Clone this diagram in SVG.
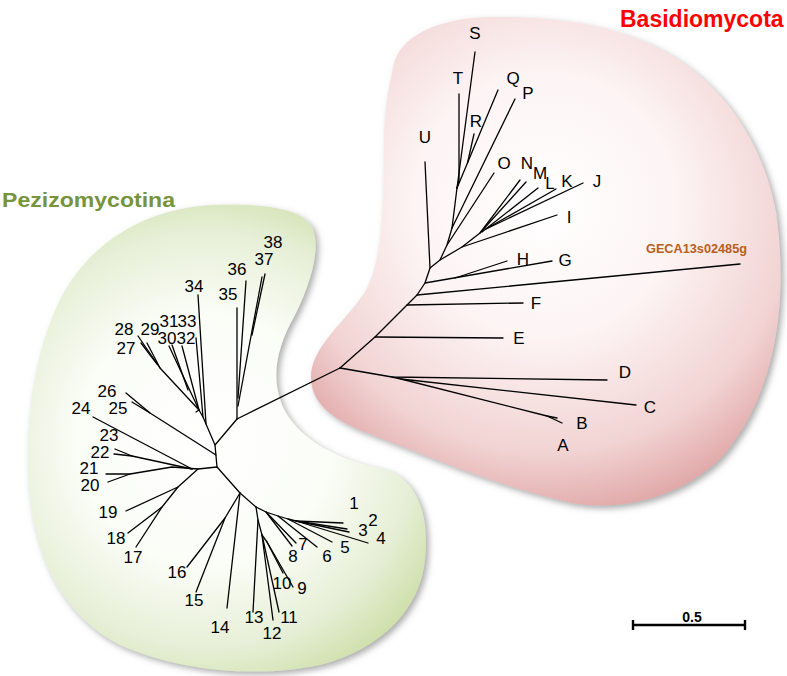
<svg xmlns="http://www.w3.org/2000/svg" width="787" height="676" viewBox="0 0 787 676">
<defs>
<radialGradient id="pinkG" gradientUnits="userSpaceOnUse" cx="545" cy="205" r="330">
<stop offset="0" stop-color="#ffffff"/>
<stop offset="0.4" stop-color="#fdf4f4"/>
<stop offset="0.75" stop-color="#f2d3d3"/>
<stop offset="1" stop-color="#dc9d9d"/>
</radialGradient>
<radialGradient id="greenG" gradientUnits="userSpaceOnUse" cx="205" cy="440" r="280">
<stop offset="0" stop-color="#ffffff"/>
<stop offset="0.45" stop-color="#fbfdf7"/>
<stop offset="0.75" stop-color="#e6efd6"/>
<stop offset="1" stop-color="#c9db9f"/>
</radialGradient>
<filter id="shade" x="-10%" y="-10%" width="125%" height="125%">
<feGaussianBlur in="SourceAlpha" stdDeviation="3"/>
<feOffset dx="3" dy="3" result="b"/>
<feFlood flood-color="#6b6b6b" flood-opacity="0.55"/>
<feComposite in2="b" operator="in"/>
<feMerge><feMergeNode/><feMergeNode in="SourceGraphic"/></feMerge>
</filter>
</defs>
<style>
.lbl{font-family:"Liberation Sans",Arial,sans-serif;font-size:17px;fill:#000;text-anchor:middle}
.br{fill:none;stroke:#000;stroke-width:1.3;stroke-linecap:round;stroke-linejoin:round}
.title{font-family:"Liberation Sans",Arial,sans-serif;font-weight:bold}
</style>
<rect width="787" height="676" fill="#ffffff"/>
<g id="clade-basidiomycota">
<path filter="url(#shade)" fill="url(#pinkG)" d="M393,68 C398,35 440,18 490,17 C560,16 610,26 650,44 C710,72 760,128 776,212 C790,310 772,400 722,457 C682,497 622,512 572,503 C502,488 430,457 370,434 C330,419 311,402 311,377 C311,347 345,322 365,292 C384,257 383,202 384,142 C384,115 388,90 393,68 Z"/>
<text class="title" x="620" y="27" font-size="23" fill="#ff0000">Basidiomycota</text>
</g>
<g id="clade-pezizomycotina">
<path filter="url(#shade)" fill="url(#greenG)" d="M60,300 C90,240 150,207 215,205 C260,204 300,207 312,227 C322,247 310,285 295,315 C278,345 270,375 282,405 C295,435 330,458 380,468 C415,476 430,510 425,560 C420,610 380,650 320,665 C260,678 180,672 120,645 C60,615 30,550 28,470 C26,400 40,340 60,300 Z"/>
<text class="title" x="2" y="207" font-size="21" fill="#77933c" textLength="173" lengthAdjust="spacingAndGlyphs">Pezizomycotina</text>
</g>
<g id="connectors" class="br">
<path d="M237,419 L340,368"/>
<path d="M340,368 L375,337 L407,305 L417,295 L425,283 L430,268 L440,260 L447,245 L452,228 L457,188"/>
<path d="M375,337 L503,338"/>
<path d="M407,305 L523,303"/>
<path d="M417,295 L740,264"/>
<path d="M425,283 L552,261"/>
<path d="M455,278 L507,261"/>
<path d="M430,268 L425,162"/>
<path d="M440,260 L462,247 L557,215"/>
<path d="M462,247 L480,233 L520,180"/>
<path d="M480,233 L526,182"/>
<path d="M482,232 L538,188"/>
<path d="M486,229 L556,189"/>
<path d="M486,229 L583,183"/>
<path d="M447,245 L494,173"/>
<path d="M452,228 L515,99"/>
<path d="M457,188 L459,180 L459,94"/>
<path d="M457,188 L475,52"/>
<path d="M457,188 L498,90"/>
<path d="M467.5,163 L474,134"/>
<path d="M340,368 L392,377 L607,380"/>
<path d="M392,377 L401,379 L636,405"/>
<path d="M401,379 L547,416 L562,423"/>
<path d="M547,416 L557,418"/>
<path d="M237,419 L215,445 L217,467"/>
<path d="M237,419 L237,308"/>
<path d="M238,398 L246,281"/>
<path d="M238,406 L262,277"/>
<path d="M252,335 L265,274"/>
<path d="M215,445 L206,424 L198,295"/>
<path d="M206,424 L203,417 L196,338"/>
<path d="M203,417 L199,410 L182,346"/>
<path d="M199,410 L196,412"/>
<path d="M199,410 L169,346"/>
<path d="M188,390 L172,345"/>
<path d="M199,410 L160,368 L138,336"/>
<path d="M160,368 L147,343"/>
<path d="M157,364 L141,343"/>
<path d="M216,455 L150,413 L126,393"/>
<path d="M150,413 L132,402"/>
<path d="M93,417 L192,469"/>
<path d="M192,469 L132,456 L115,449"/>
<path d="M132,456 L114,454"/>
<path d="M217,467 L198,469 L172,467 L130,474 L106,474"/>
<path d="M130,474 L108,482"/>
<path d="M198,469 L178,487 L126,511"/>
<path d="M178,487 L162,507 L128,533"/>
<path d="M162,507 L136,547"/>
<path d="M217,467 L240,493 L256,507"/>
<path d="M240,493 L227,608"/>
<path d="M240,493 L225,518 L187,567"/>
<path d="M225,518 L196,592"/>
<path d="M256,507 L266,512 L292,546"/>
<path d="M266,512 L296,543"/>
<path d="M266,512 L278,516 L317,547"/>
<path d="M278,516 L288,519 L332,542"/>
<path d="M288,519 L296,521 L343,523"/>
<path d="M296,521 L347,529"/>
<path d="M296,521 L349,532"/>
<path d="M296,521 L368,543"/>
<path d="M256,507 L258,520 L253,612"/>
<path d="M258,520 L262,535 L273,620"/>
<path d="M262,535 L279,612"/>
<path d="M262,535 L267,542 L283,573"/>
<path d="M267,542 L293,587"/>
</g>
<g id="leaf-S"><text class="lbl" x="475" y="39">S</text></g>
<g id="leaf-T"><text class="lbl" x="458" y="84">T</text></g>
<g id="leaf-Q"><text class="lbl" x="513" y="84">Q</text></g>
<g id="leaf-P"><text class="lbl" x="528" y="99">P</text></g>
<g id="leaf-R"><text class="lbl" x="476" y="127">R</text></g>
<g id="leaf-U"><text class="lbl" x="425" y="143">U</text></g>
<g id="leaf-O"><text class="lbl" x="504" y="169">O</text></g>
<g id="leaf-N"><text class="lbl" x="527" y="169">N</text></g>
<g id="leaf-M"><text class="lbl" x="540" y="179">M</text></g>
<g id="leaf-L"><text class="lbl" x="550" y="189">L</text></g>
<g id="leaf-K"><text class="lbl" x="567" y="187">K</text></g>
<g id="leaf-J"><text class="lbl" x="597" y="187">J</text></g>
<g id="leaf-I"><text class="lbl" x="569" y="223">I</text></g>
<g id="leaf-H"><text class="lbl" x="523" y="265">H</text></g>
<g id="leaf-G"><text class="lbl" x="565" y="266">G</text></g>
<g id="leaf-GECA13s02485g"><text class="title" x="646" y="253" font-size="12.5" fill="#b5601c" textLength="101" lengthAdjust="spacingAndGlyphs">GECA13s02485g</text></g>
<g id="leaf-F"><text class="lbl" x="536" y="309">F</text></g>
<g id="leaf-E"><text class="lbl" x="519" y="344">E</text></g>
<g id="leaf-D"><text class="lbl" x="625" y="378">D</text></g>
<g id="leaf-C"><text class="lbl" x="650" y="413">C</text></g>
<g id="leaf-B"><text class="lbl" x="582" y="429">B</text></g>
<g id="leaf-A"><text class="lbl" x="563" y="451">A</text></g>
<g id="leaf-1"><text class="lbl" x="354" y="509">1</text></g>
<g id="leaf-2"><text class="lbl" x="373" y="526">2</text></g>
<g id="leaf-3"><text class="lbl" x="363" y="536">3</text></g>
<g id="leaf-4"><text class="lbl" x="381" y="544">4</text></g>
<g id="leaf-5"><text class="lbl" x="345" y="553">5</text></g>
<g id="leaf-6"><text class="lbl" x="327" y="562">6</text></g>
<g id="leaf-7"><text class="lbl" x="303" y="550">7</text></g>
<g id="leaf-8"><text class="lbl" x="293" y="562">8</text></g>
<g id="leaf-9"><text class="lbl" x="302" y="594">9</text></g>
<g id="leaf-10"><text class="lbl" x="282" y="589">10</text></g>
<g id="leaf-11"><text class="lbl" x="289" y="623">11</text></g>
<g id="leaf-12"><text class="lbl" x="272" y="639">12</text></g>
<g id="leaf-13"><text class="lbl" x="254" y="623">13</text></g>
<g id="leaf-14"><text class="lbl" x="220" y="633">14</text></g>
<g id="leaf-15"><text class="lbl" x="194" y="606">15</text></g>
<g id="leaf-16"><text class="lbl" x="177" y="578">16</text></g>
<g id="leaf-17"><text class="lbl" x="133" y="563">17</text></g>
<g id="leaf-18"><text class="lbl" x="116" y="544">18</text></g>
<g id="leaf-19"><text class="lbl" x="108" y="518">19</text></g>
<g id="leaf-20"><text class="lbl" x="90" y="491">20</text></g>
<g id="leaf-21"><text class="lbl" x="89" y="474">21</text></g>
<g id="leaf-22"><text class="lbl" x="100" y="458">22</text></g>
<g id="leaf-23"><text class="lbl" x="109" y="441">23</text></g>
<g id="leaf-24"><text class="lbl" x="81" y="414">24</text></g>
<g id="leaf-25"><text class="lbl" x="118" y="414">25</text></g>
<g id="leaf-26"><text class="lbl" x="107" y="397">26</text></g>
<g id="leaf-27"><text class="lbl" x="126" y="354">27</text></g>
<g id="leaf-28"><text class="lbl" x="124" y="335">28</text></g>
<g id="leaf-29"><text class="lbl" x="150" y="335">29</text></g>
<g id="leaf-30"><text class="lbl" x="167" y="344">30</text></g>
<g id="leaf-31"><text class="lbl" x="169" y="327">31</text></g>
<g id="leaf-32"><text class="lbl" x="186" y="344">32</text></g>
<g id="leaf-33"><text class="lbl" x="187" y="327">33</text></g>
<g id="leaf-34"><text class="lbl" x="194" y="292">34</text></g>
<g id="leaf-35"><text class="lbl" x="228" y="300">35</text></g>
<g id="leaf-36"><text class="lbl" x="237" y="275">36</text></g>
<g id="leaf-37"><text class="lbl" x="264" y="265">37</text></g>
<g id="leaf-38"><text class="lbl" x="273" y="248">38</text></g>
<g id="scale-bar">
<path d="M633,625 L745,625 M633,620 L633,630 M745,620 L745,630" fill="none" stroke="#000" stroke-width="2.4"/>
<text class="title" x="692" y="622" font-size="14" fill="#000" text-anchor="middle">0.5</text>
</g>
</svg>
